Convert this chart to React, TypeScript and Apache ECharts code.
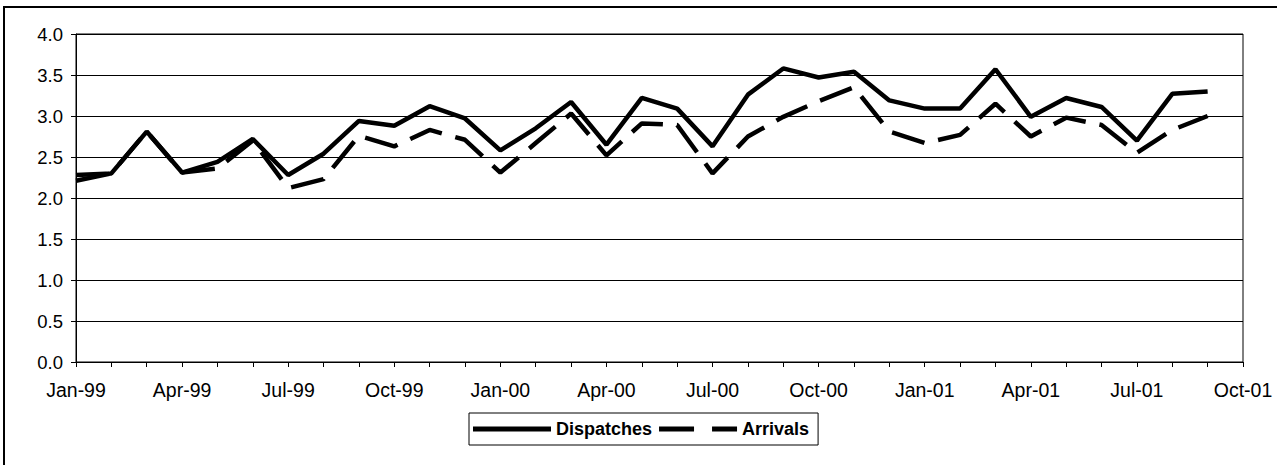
import React, { useEffect, useRef } from "react";
import * as echarts from "echarts";

const months: string[] = [
  "Jan-99", "Feb-99", "Mar-99", "Apr-99", "May-99", "Jun-99", "Jul-99", "Aug-99", "Sep-99", "Oct-99", "Nov-99", "Dec-99",
  "Jan-00", "Feb-00", "Mar-00", "Apr-00", "May-00", "Jun-00", "Jul-00", "Aug-00", "Sep-00", "Oct-00", "Nov-00", "Dec-00",
  "Jan-01", "Feb-01", "Mar-01", "Apr-01", "May-01", "Jun-01", "Jul-01", "Aug-01", "Sep-01", "Oct-01",
];

const dispatches: (number | null)[] = [
  2.28, 2.30, 2.81, 2.31, 2.44, 2.72, 2.28, 2.54, 2.94, 2.88, 3.12, 2.97,
  2.58, 2.85, 3.17, 2.65, 3.22, 3.09, 2.63, 3.26, 3.58, 3.47, 3.54, 3.19,
  3.09, 3.09, 3.57, 2.99, 3.22, 3.11, 2.70, 3.27, 3.30, null,
];

const arrivals: (number | null)[] = [
  2.21, 2.30, 2.81, 2.31, 2.36, 2.70, 2.12, 2.23, 2.76, 2.63, 2.83, 2.71,
  2.31, 2.67, 3.03, 2.52, 2.91, 2.89, 2.30, 2.75, 2.99, 3.18, 3.35, 2.81,
  2.67, 2.77, 3.15, 2.75, 2.98, 2.89, 2.55, 2.83, 3.00, null,
];

const FONT = "'Liberation Sans', Arial, sans-serif";

export default function App() {
  const ref = useRef<HTMLDivElement>(null);
  useEffect(() => {
    if (!ref.current) return;
    const chart = echarts.init(ref.current, undefined, { renderer: "svg" });
    chart.setOption({
      animation: false,
      backgroundColor: "#fff",
      textStyle: { fontFamily: FONT, color: "#000" },
      grid: {
        left: 76,
        right: 34,
        top: 34,
        bottom: 103,
        show: true,
        borderColor: "#000",
        borderWidth: 1,
        containLabel: false,
      },
      graphic: [
        {
          type: "rect",
          shape: { x: 4, y: 7, width: 1300, height: 500 },
          style: { fill: "none", stroke: "#000", lineWidth: 2 },
          silent: true,
        },
      ],
      legend: {
        left: 469,
        top: 413,
        orient: "horizontal",
        borderColor: "#000",
        borderWidth: 1,
        padding: [7, 9, 7, 4],
        itemWidth: 78,
        itemHeight: 5,
        itemGap: 7,
        textStyle: { fontFamily: FONT, fontSize: 18, fontWeight: "bold", color: "#000" },
        data: [
          { name: "Dispatches", icon: "path://M0,0 L78,0 L78,5 L0,5 Z" },
          { name: "Arrivals", icon: "path://M0,0 L35,0 L35,5 L0,5 Z M53,0 L78,0 L78,5 L53,5 Z" },
        ],
      },
      xAxis: {
        type: "category",
        data: months,
        boundaryGap: false,
        axisLine: { show: true, lineStyle: { color: "#000", width: 1 } },
        axisTick: { show: true, interval: 0, length: 5, lineStyle: { color: "#000" } },
        axisLabel: {
          interval: 2,
          margin: 18,
          fontSize: 19.5,
          fontFamily: FONT,
          color: "#000",
        },
        splitLine: { show: false },
      },
      yAxis: {
        type: "value",
        min: 0,
        max: 4,
        interval: 0.5,
        axisLine: { show: true, lineStyle: { color: "#000", width: 1 } },
        axisTick: { show: true, length: 5, lineStyle: { color: "#000" } },
        axisLabel: {
          margin: 13,
          fontSize: 18.5,
          fontFamily: FONT,
          color: "#000",
          formatter: (v: number) => v.toFixed(1),
        },
        splitLine: { show: true, lineStyle: { color: "#000", width: 1 } },
      },
      series: [
        {
          name: "Dispatches",
          type: "line",
          data: dispatches,
          symbol: "none",
          color: "#000",
          lineStyle: { color: "#000", width: 4.5 },
          z: 3,
        },
        {
          name: "Arrivals",
          type: "line",
          data: arrivals,
          symbol: "none",
          color: "#000",
          lineStyle: { color: "#000", width: 4.5, type: [34, 14] },
          z: 2,
        },
      ],
    });
    return () => chart.dispose();
  }, []);
  return (
    <div
      ref={ref}
      style={{ position: "fixed", left: 0, top: 0, width: 1277, height: 465, background: "#fff" }}
    />
  );
}
